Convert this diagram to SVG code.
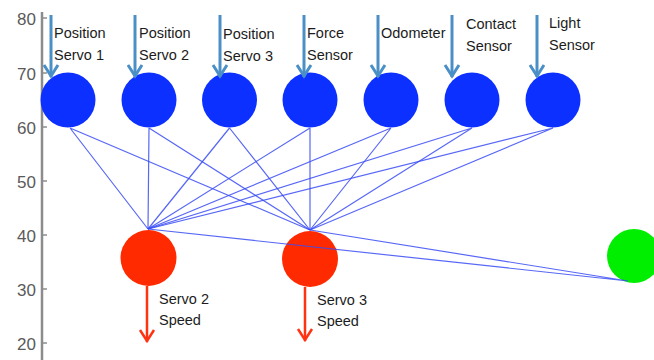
<svg xmlns="http://www.w3.org/2000/svg" width="654" height="360" viewBox="0 0 654 360">
<style>
.axis{stroke:#8c8c8c;stroke-width:2.5;fill:none}
.tick{stroke:#8c8c8c;stroke-width:1.5}
.tl{font-family:"Liberation Sans",Arial,sans-serif;font-size:17px;fill:#5a5a5a;text-anchor:end}
.lbl{font-family:"Liberation Sans",Arial,sans-serif;font-size:14.5px;fill:#1c1c1c}
.in{fill:#0c30ff}
.out{fill:#ff2a00}
.grn{fill:#00ee00}
.edge{stroke:#3a4cf5;stroke-width:1.2;stroke-opacity:0.85;fill:none}
.ain{stroke:#4a8fc6;stroke-width:3;fill:none;marker-end:url(#hb)}
.aout{stroke:#ff3311;stroke-width:2.5;fill:none;marker-end:url(#hr)}
</style>
<defs>
<marker id="hb" viewBox="-14 -9 16 18" refX="0" refY="0" markerWidth="16" markerHeight="18" markerUnits="userSpaceOnUse" orient="auto">
<path d="M-12,-7 L-1,0 L-12,7" stroke="#4a8fc6" stroke-width="3" fill="none"/>
</marker>
<marker id="hr" viewBox="-14 -9 16 18" refX="0" refY="0" markerWidth="16" markerHeight="18" markerUnits="userSpaceOnUse" orient="auto">
<path d="M-12,-7 L-1,0 L-12,7" stroke="#ff3311" stroke-width="2.5" fill="none"/>
</marker>
</defs>
<rect width="654" height="360" fill="#ffffff"/>
<g id="axis">
<line class="axis" x1="42" y1="12" x2="42" y2="360"/>
<line class="tick" x1="42" y1="18" x2="47" y2="18"/>
<line class="tick" x1="42" y1="73" x2="47" y2="73"/>
<line class="tick" x1="42" y1="127" x2="47" y2="127"/>
<line class="tick" x1="42" y1="181" x2="47" y2="181"/>
<line class="tick" x1="42" y1="235" x2="47" y2="235"/>
<line class="tick" x1="42" y1="289" x2="47" y2="289"/>
<line class="tick" x1="42" y1="343" x2="47" y2="343"/>
<text class="tl" x="36" y="25">80</text>
<text class="tl" x="36" y="80">70</text>
<text class="tl" x="36" y="134">60</text>
<text class="tl" x="36" y="188">50</text>
<text class="tl" x="36" y="242">40</text>
<text class="tl" x="36" y="296">30</text>
<text class="tl" x="36" y="350">20</text>
</g>
<g id="in1"><circle class="in" cx="68" cy="100" r="27.5"/><text class="lbl" x="54" y="38">Position</text><text class="lbl" x="54" y="60">Servo 1</text></g>
<g id="in2"><circle class="in" cx="149" cy="100" r="27.5"/><text class="lbl" x="139" y="38">Position</text><text class="lbl" x="139" y="60">Servo 2</text></g>
<g id="in3"><circle class="in" cx="229.5" cy="100" r="27.5"/><text class="lbl" x="223" y="39">Position</text><text class="lbl" x="223" y="61">Servo 3</text></g>
<g id="in4"><circle class="in" cx="310" cy="100" r="27.5"/><text class="lbl" x="307" y="38">Force</text><text class="lbl" x="307" y="60">Sensor</text></g>
<g id="in5"><circle class="in" cx="391" cy="100" r="27.5"/><text class="lbl" x="381" y="38">Odometer</text></g>
<g id="in6"><circle class="in" cx="472" cy="100" r="27.5"/><text class="lbl" x="466" y="29">Contact</text><text class="lbl" x="466" y="51">Sensor</text></g>
<g id="in7"><circle class="in" cx="553" cy="100" r="27.5"/><text class="lbl" x="549" y="28">Light</text><text class="lbl" x="549" y="50">Sensor</text></g>
<g id="out1"><circle class="out" cx="148.5" cy="258" r="28"/><text class="lbl" x="159" y="304">Servo 2</text><text class="lbl" x="159" y="325">Speed</text></g>
<g id="out2"><circle class="out" cx="310" cy="259" r="28"/><text class="lbl" x="317" y="305">Servo 3</text><text class="lbl" x="317" y="326">Speed</text></g>
<g id="green"><circle class="grn" cx="634" cy="256" r="27"/></g>
<g id="connectors">
<path class="edge" d="M70,128 L148,229 M70,128 L310,230"/>
<path class="edge" d="M149,128 L148,229 M149,128 L310,230"/>
<path class="edge" d="M229.5,128 L148,229 M229.5,128 L310,230"/>
<path class="edge" d="M310,128 L148,229 M310,128 L310,230"/>
<path class="edge" d="M391,128 L148,229 M391,128 L310,230"/>
<path class="edge" d="M472,128 L148,229 M472,128 L310,230"/>
<path class="edge" d="M553,128 L148,229 M553,128 L310,230"/>
<path class="edge" d="M148,229 L628,281 M310,230 L628,281"/>
<path class="ain" d="M51,15 L51,77"/>
<path class="ain" d="M135,15 L135,77"/>
<path class="ain" d="M220,15 L220,77"/>
<path class="ain" d="M304,15 L304,77"/>
<path class="ain" d="M378,15 L378,77"/>
<path class="ain" d="M452,15 L452,77"/>
<path class="ain" d="M537,15 L537,77"/>
<path class="aout" d="M147,286 L147,342"/>
<path class="aout" d="M305,287 L305,341"/>
</g>
</svg>
